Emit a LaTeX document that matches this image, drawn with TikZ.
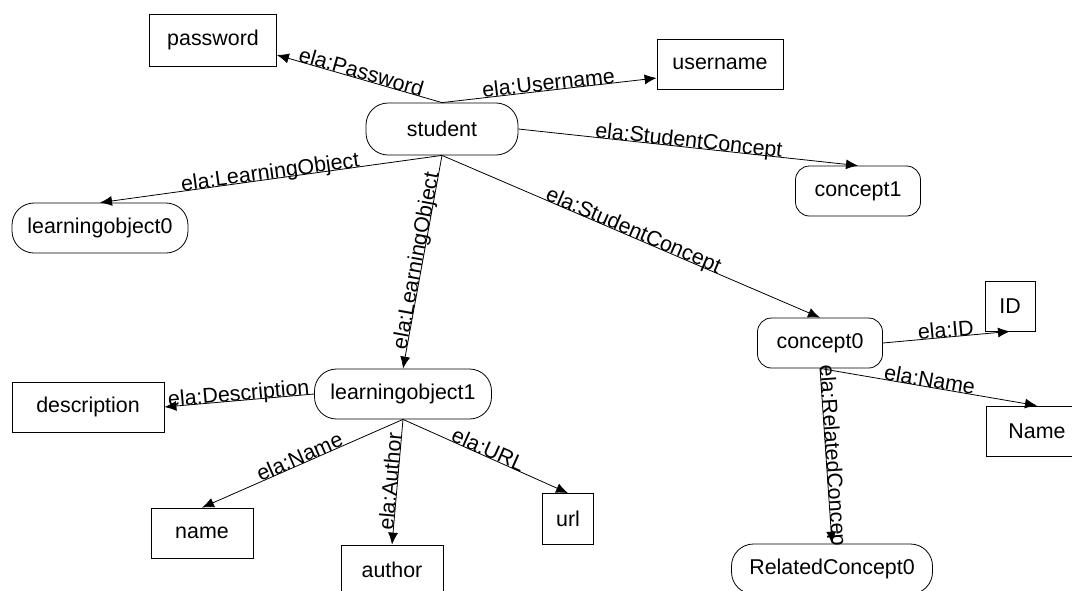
\documentclass[tikz,border=0pt]{standalone}
\usepackage{fontspec}
\setmainfont{Liberation Sans}
\usepackage{tikz}
\usetikzlibrary{arrows.meta}

\begin{document}
\begin{tikzpicture}[
  x=0.5pt, y=-0.5pt,
  literal/.style={draw, thin, inner sep=0pt, minimum height=25pt,
    font=\fontsize{10.7}{13}\selectfont},
  resource/.style={literal, rounded corners=7pt},
  longresource/.style={literal, rounded corners=11pt},
  prop/.style={draw, thin, -{Latex[length=6pt,width=5pt]}},
  proplabel/.style={sloped, anchor=base, inner sep=0pt, pos=0.5,
    font=\fontsize{10.7}{13}\selectfont},
  ]
  \newcommand{\ela}[1]{ela:#1}
  \useasboundingbox (0,0) rectangle (1072,590);
  \clip (0,0) rectangle (1072,590);

  % resources
  \node[longresource, minimum width=76pt, minimum height=26pt] (student) at (442,129) {student};
  \node[resource, minimum width=62.5pt] (concept1) at (858,191) {concept1};
  \node[longresource, minimum width=88pt] (lo0) at (100,228) {learningobject0};
  \node[resource, minimum width=62.5pt] (concept0) at (820,343) {concept0};
  \node[longresource, minimum width=88.5pt] (lo1) at (403,394) {learningobject1};
  \node[longresource, minimum width=100.5pt] (rc0) at (832,569) {RelatedConcept0};

  % literals
  \node[literal, minimum width=63.5pt, minimum height=26pt] (password) at (213,40) {password};
  \node[literal, minimum width=63pt] (username) at (720,64) {username};
  \node[literal, minimum width=25pt] (id) at (1010,306) {ID};
  \node[literal, minimum width=76pt] (description) at (88,407) {description};
  \node[literal, minimum width=51pt] (cname) at (1037,431) {Name};
  \node[literal, minimum width=51pt] (name) at (202,533) {name};
  \node[literal, minimum width=25.5pt, minimum height=25.5pt] (url) at (568,519) {url};
  \node[literal, minimum width=51pt] (author) at (392,570) {author};

  % student
  \draw[prop] (student.north) -- node[proplabel] {\ela{Password}} ([yshift=-7.5pt]password.east);
  \draw[prop] (student.north) -- node[proplabel] {\ela{Username}} ([yshift=-7pt]username.west);
  \draw[prop] (student.east) -- node[proplabel] {\ela{StudentConcept}} (concept1.north);
  \draw[prop] (student.south) -- node[proplabel] {\ela{LearningObject}} (lo0.north);
  \draw[prop] (student.south) -- node[proplabel] {\ela{LearningObject}} (lo1.north);
  \draw[prop] (student.south) -- node[proplabel] {\ela{StudentConcept}} (concept0.north);

  % concept0
  \draw[prop] (concept0.east) -- node[proplabel] {\ela{ID}} (id.south);
  \draw[prop] (concept0.south) -- node[proplabel] {\ela{Name}} (cname.north);
  \draw[prop] (concept0.south) -- node[proplabel] {\ela{RelatedConcep}} (rc0.north);

  % learningobject1
  \draw[prop] (lo1.west) -- node[proplabel] {\ela{Description}} (description.east);
  \draw[prop] (lo1.south) -- node[proplabel] {\ela{Name}} (name.north);
  \draw[prop] (lo1.south) -- node[proplabel] {\ela{Author}} (author.north);
  \draw[prop] (lo1.south) -- node[proplabel] {\ela{URL}} (url.north);
\end{tikzpicture}
\end{document}
